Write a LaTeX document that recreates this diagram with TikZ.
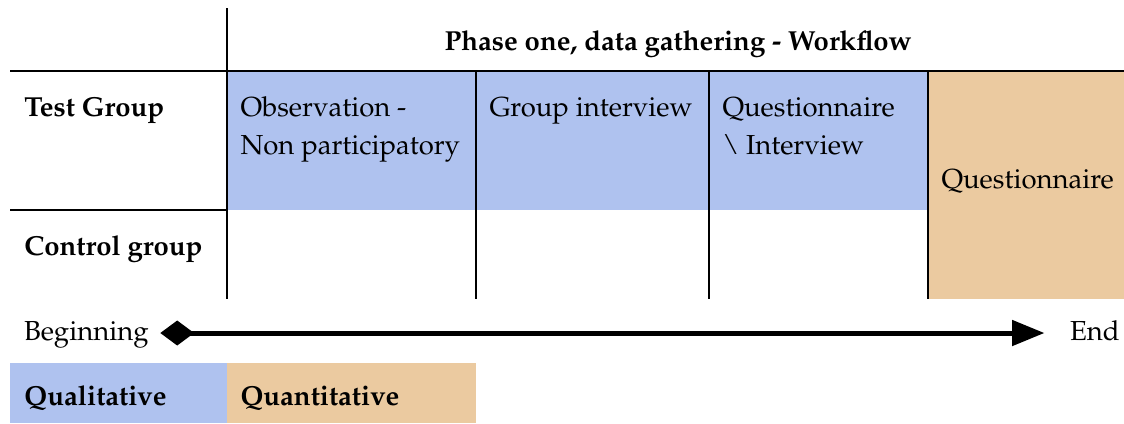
\documentclass[tikz,border=0pt]{standalone}
\usepackage[T1]{fontenc}
\usepackage{mathpazo}
\usepackage{xcolor}
\usepackage{tikz}
\usetikzlibrary{arrows.meta,positioning}
\definecolor{cellblue}{RGB}{175,194,239}
\definecolor{cellorange}{RGB}{235,202,160}
\tikzset{
	cell text/.style={font=\fontsize{11}{15.2}\selectfont,inner sep=0pt,anchor=base west,align=left},
	head text/.style={cell text,font=\fontsize{11}{15.2}\selectfont\bfseries},
	end text/.style={cell text,anchor=west,inner xsep=1pt,text height=8pt,text depth=2pt},
	grid line/.style={line width=0.6pt},
	timeline/.style={line width=2pt,{Diamond[length=13.5pt,width=10pt]}-{Triangle[length=13pt,width=10pt]}}
}
\begin{document}
\begin{tikzpicture}[x=0.4pt,y=-0.4pt]
	\useasboundingbox (0,0) rectangle (1124,423);
	\fill[cellblue] (227,71) rectangle (928,210);
	\fill[cellorange] (928,71) rectangle (1124,299);
	\fill[cellblue] (10,363) rectangle (227,423);
	\fill[cellorange] (227,363) rectangle (476,423);
	\draw[grid line] (227,8) -- (227,299);
	\draw[grid line] (10,71) -- (1124,71);
	\draw[grid line] (10,210) -- (227,210);
	\foreach \x in {476,709,928}
		\draw[grid line] (\x,71) -- (\x,299);
	\node[head text,anchor=base] (phase) at (678,50) {Phase one, data gathering - Workflow};
	\node[head text] (test) at (24,116) {Test Group};
	\node[head text] (control) at (24,255) {Control group};
	\node[cell text] (observe) at (240,154) {Observation -\\Non participatory};
	\node[cell text] (interview) at (489,116) {Group interview};
	\node[cell text] (mixed) at (722,154) {Questionnaire\\\textbackslash\ Interview};
	\node[cell text] (quest) at (941,188) {Questionnaire};
	\node[end text] (begin) at (21,333) {Beginning};
	\node[end text] (end) at (1067,333) {End};
	\draw[timeline,shorten <=3.5pt,shorten >=9pt] (begin) -- (end);
	\node[head text] (qual) at (24,405) {Qualitative};
	\node[head text] (quant) at (240,405) {Quantitative};
\end{tikzpicture}
\end{document}
